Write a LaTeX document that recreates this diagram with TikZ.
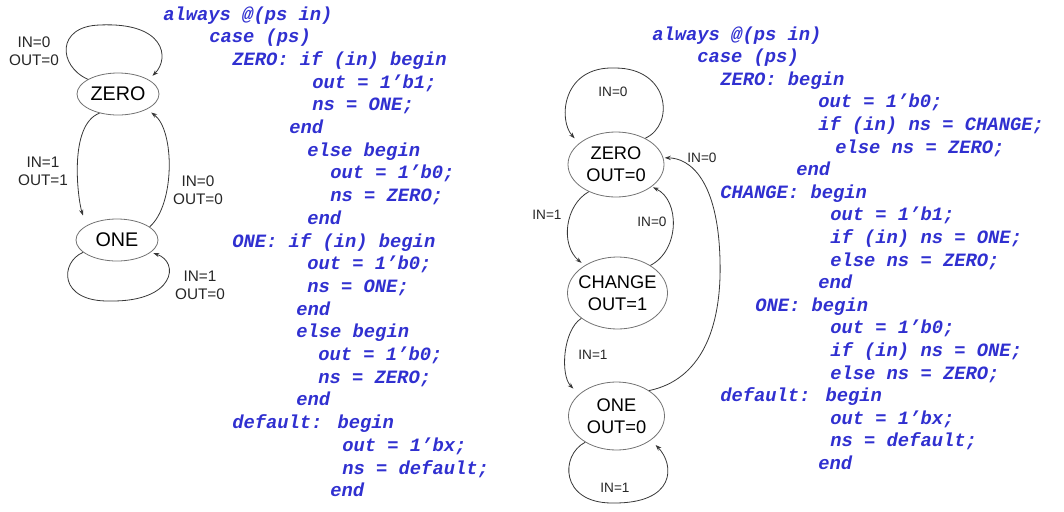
\documentclass[tikz,border=0pt]{standalone}
\usepackage{fontspec}
\setmainfont{Liberation Sans}
\newfontfamily\codefont{Liberation Mono}
\usetikzlibrary{shapes.geometric,arrows.meta}

\definecolor{codeblue}{RGB}{48,48,208}
\definecolor{linegrey}{RGB}{55,55,55}

\tikzset{
  state/.style={ellipse, draw=linegrey!70, line width=0.6pt, inner sep=0pt, inner xsep=-5pt, align=center},
  trans/.style={draw=linegrey, line width=0.6pt, -{Stealth[length=4.5pt,width=3.2pt]}},
  code/.style={anchor=base west, inner sep=0pt, text=codeblue,
    font=\codefont\bfseries\itshape\fontsize{14.1}{17}\selectfont},
  lbl/.style={inner sep=0pt, align=center, text=black!85},
}

\begin{document}
\begin{tikzpicture}[x=0.75pt, y=-0.75pt]
    \useasboundingbox (0,0) rectangle (1064,511);

    % left machine
    \node[state, minimum width=61.5pt, minimum height=31.5pt, font=\fontsize{14.8}{17}\selectfont] (lzero) at (118,94) {ZERO};
    \node[state, minimum width=61.5pt, minimum height=31.5pt, font=\fontsize{14.8}{17}\selectfont] (lone) at (117,240) {ONE};

    \draw[trans, shorten >=4pt] (lzero.154) .. controls (58,66) and (56,26) .. (100,25) .. controls (165,22) and (170,58) .. (lzero.25);
    \draw[trans, shorten >=8pt] (lzero.226) .. controls (68,125) and (78,200) .. (lone.155);
    \draw[trans, shorten >=4pt] (lone.22) .. controls (175,205) and (175,130) .. (lzero.-28);
    \draw[trans, shorten >=2pt] (lone.200) .. controls (60,262) and (58,302) .. (110,301) .. controls (175,302) and (180,262) .. (lone.-20);

    \node[lbl, font=\fontsize{11.5}{13.5}\selectfont] (lzz) at (34,51) {IN=0\\OUT=0};
    \node[lbl, font=\fontsize{11.5}{13.5}\selectfont] (lzo) at (43,171) {IN=1\\OUT=1};
    \node[lbl, font=\fontsize{11.5}{13.5}\selectfont] (loz) at (198,190) {IN=0\\OUT=0};
    \node[lbl, font=\fontsize{11.5}{13.5}\selectfont] (loo) at (200,285) {IN=1\\OUT=0};

    % right machine
    \node[state, minimum width=72pt, minimum height=48.75pt, font=\fontsize{13.7}{16.5}\selectfont] (rzero) at (616,164.5) {ZERO\\OUT=0};
    \node[state, minimum width=75pt, minimum height=54pt, font=\fontsize{13.7}{16.5}\selectfont] (rchange) at (617.5,293) {CHANGE\\OUT=1};
    \node[state, minimum width=72pt, minimum height=51pt, font=\fontsize{13.7}{16.5}\selectfont] (rone) at (616.5,416) {ONE\\OUT=0};

    \draw[trans, shorten >=5pt] (rzero.42) .. controls (675,125) and (670,68) .. (615,68) .. controls (562,66) and (558,120) .. (rzero.150);
    \draw[trans, shorten >=3pt] (rzero.225) .. controls (565,205) and (560,245) .. (rchange.140);
    \draw[trans, shorten >=1pt] (rchange.40) .. controls (680,250) and (680,200) .. (rzero.-32);
    \draw[trans, shorten >=6pt] (rchange.215) .. controls (563,330) and (560,375) .. (rone.150);
    \draw[trans, shorten >=1pt] (rone.38) .. controls (700,380) and (722,330) .. (720,260) .. controls (718,180) and (690,158) .. (rzero.8);
    \draw[trans, shorten >=5pt] (rone.220) .. controls (560,455) and (560,503) .. (612,503) .. controls (676,504) and (675,465) .. (rone.-35);

    \node[lbl, font=\fontsize{10.2}{12}\selectfont] (rzz) at (613,92) {IN=0};
    \node[lbl, font=\fontsize{10.2}{12}\selectfont] (rzc) at (547,215) {IN=1};
    \node[lbl, font=\fontsize{10.2}{12}\selectfont] (rcz) at (652,222) {IN=0};
    \node[lbl, font=\fontsize{10.2}{12}\selectfont] (rco) at (593,355) {IN=1};
    \node[lbl, font=\fontsize{10.2}{12}\selectfont] (roz) at (702,158) {IN=0};
    \node[lbl, font=\fontsize{10.2}{12}\selectfont] (roo) at (615,488) {IN=1};

    % code, one node per line
    \foreach \x/\txt [count=\i] in {163/{always @(ps in)}, 209/{case (ps)}, 232/{ZERO: if (in) begin},
        312/{out = 1’b1;}, 312/{ns = ONE;}, 289/{end}, 307/{else begin}, 330/{out = 1’b0;},
        330/{ns = ZERO;}, 307/{end}, 232/{ONE: if (in) begin}, 307/{out = 1’b0;}, 307/{ns = ONE;},
        296/{end}, 296/{else begin}, 318/{out = 1’b0;}, 318/{ns = ZERO;}, 296/{end},
        232/{default: begin}, 342/{out = 1’bx;}, 342/{ns = default;}, 330/{end}}
      \node[code] (lc\i) at (\x,{20+22.7*(\i-1)}) {\txt};

    \foreach \x/\txt [count=\i] in {652/{always @(ps in)}, 697/{case (ps)}, 720/{ZERO: begin},
        818/{out = 1’b0;}, 818/{if (in) ns = CHANGE;}, 835/{else ns = ZERO;}, 796/{end},
        720/{CHANGE: begin}, 830/{out = 1’b1;}, 830/{if (in) ns = ONE;}, 830/{else ns = ZERO;},
        818/{end}, 755/{ONE: begin}, 830/{out = 1’b0;}, 830/{if (in) ns = ONE;}, 830/{else ns = ZERO;},
        720/{default: begin}, 830/{out = 1’bx;}, 830/{ns = default;}, 818/{end}}
      \node[code] (rc\i) at (\x,{40+22.6*(\i-1)}) {\txt};
\end{tikzpicture}
\end{document}
